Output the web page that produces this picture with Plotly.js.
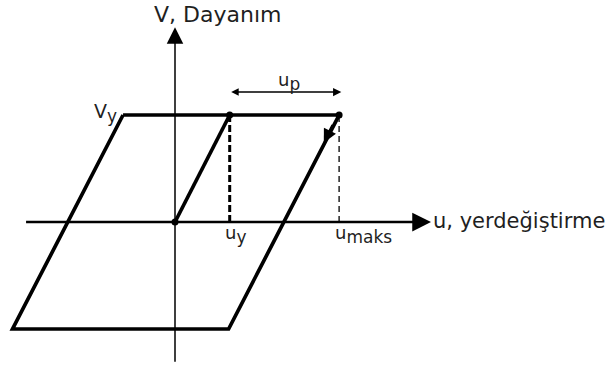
<!DOCTYPE html>
<html>
<head>
<meta charset="utf-8">
<script src="https://cdn.plot.ly/plotly-3.0.1.min.js"></script>
<style>html,body{margin:0;padding:0;background:#fff;}#chart{width:611px;height:374px;}</style>
</head>
<body>
<div id="chart"></div>
<script>
// Hysteresis loop (u, V) corners, in units of u_y and V_y
const loopU = [-0.95, 3, 0.98, -2.97, -0.95];
const loopV = [1, 1, -1, -1, 1];
// Elastic loading branch
const elasticU = [0, 1];
const elasticV = [0, 1];
// Marked points
const pointU = [0, 1, 3];
const pointV = [0, 1, 1];
// Key values
const uY = 1;
const uMaks = 3;
const vY = 1;
// Axis arrow extents
const axisUExtent = [-2.75, 4.68];
const axisVExtent = [-1.32, 1.82];
// Labels
const labels = {
  vAxis: 'V, Dayanım',
  uAxis: 'u, yerdeğiştirme',
  vY: ['V', 'y'],
  uY: ['u', 'y'],
  uMaks: ['u', 'maks'],
  uP: ['u', 'p']
};

const FONT = 'DejaVu Sans, Verdana, sans-serif';
const TXT = '#1f1f1f';
const SUBSIZE = 17;

function subText(parts) {
  return parts[0] + '<sub><span style="font-size:' + SUBSIZE + 'px">' + parts[1] + '</span></sub>';
}

const traces = [
  {x: loopU, y: loopV, mode: 'lines', line: {color: '#000', width: 3.7}, hoverinfo: 'skip'},
  {x: elasticU, y: elasticV, mode: 'lines', line: {color: '#000', width: 3.7}, hoverinfo: 'skip'},
  {x: [uY, uY], y: [0, vY], mode: 'lines', line: {color: '#000', width: 3, dash: '7px,3px'}, hoverinfo: 'skip'},
  {x: [uMaks, uMaks], y: [0, vY], mode: 'lines', line: {color: '#000', width: 1.3, dash: '6px,4px'}, hoverinfo: 'skip'},
  {x: pointU, y: pointV, mode: 'markers', marker: {color: '#000', size: 7}, hoverinfo: 'skip'}
];

const pxX0 = 175, pxScaleX = 54.7, pxY0 = 222, pxScaleY = 107;
const W = 611, H = 374;

const annotations = [
  // horizontal axis arrow
  {x: axisUExtent[1], y: 0, ax: axisUExtent[0], ay: 0, axref: 'x', ayref: 'y', xref: 'x', yref: 'y',
   text: '', showarrow: true, arrowhead: 2, arrowsize: 1.5, arrowwidth: 2.5, arrowcolor: '#000'},
  // vertical axis arrow
  {x: 0, y: axisVExtent[1], ax: 0, ay: axisVExtent[0], axref: 'x', ayref: 'y', xref: 'x', yref: 'y',
   text: '', showarrow: true, arrowhead: 2, arrowsize: 2.2, arrowwidth: 1.5, arrowcolor: '#000'},
  // u_p double arrow
  {x: uMaks + 0.04, y: vY + 0.215, ax: uY, ay: vY + 0.215, axref: 'x', ayref: 'y', xref: 'x', yref: 'y',
   text: '', showarrow: true, arrowhead: 2, startarrowhead: 2, arrowside: 'end+start', arrowsize: 1.1, startarrowsize: 1.0, arrowwidth: 1.5, arrowcolor: '#000'},
  // unloading direction arrow
  {x: 2.72, y: 0.74, ax: 2.9, ay: 0.92, axref: 'x', ayref: 'y', xref: 'x', yref: 'y',
   text: '', showarrow: true, arrowhead: 2, arrowsize: 0.9, arrowwidth: 3, arrowcolor: '#000'},
  // text labels
  {x: 0, y: axisVExtent[1], xref: 'x', yref: 'y', xanchor: 'left', yanchor: 'middle', xshift: -23, yshift: 13,
   text: labels.vAxis, showarrow: false, font: {family: FONT, size: 22, color: TXT}},
  {x: axisUExtent[1], y: 0, xref: 'x', yref: 'y', xanchor: 'left', yanchor: 'middle', xshift: 0, yshift: 1,
   text: labels.uAxis, showarrow: false, font: {family: FONT, size: 21, color: TXT}},
  {x: loopU[0], y: vY, xref: 'x', yref: 'y', xanchor: 'right', yanchor: 'middle', xshift: -4, yshift: 2,
   text: subText(labels.vY), showarrow: false, font: {family: FONT, size: 19, color: TXT}},
  {x: uY, y: 0, xref: 'x', yref: 'y', xanchor: 'left', yanchor: 'top', xshift: -7, yshift: 2,
   text: subText(labels.uY), showarrow: false, font: {family: FONT, size: 18, color: TXT}},
  {x: uMaks, y: 0, xref: 'x', yref: 'y', xanchor: 'left', yanchor: 'top', xshift: -6, yshift: 2,
   text: subText(labels.uMaks), showarrow: false, font: {family: FONT, size: 18, color: TXT}},
  {x: (uY + uMaks) / 2, y: vY + 0.215, xref: 'x', yref: 'y', xanchor: 'center', yanchor: 'bottom', xshift: 5, yshift: -4,
   text: subText(labels.uP), showarrow: false, font: {family: FONT, size: 18, color: TXT}}
];

const layout = {
  width: W, height: H,
  margin: {l: 0, r: 0, t: 0, b: 0, pad: 0},
  paper_bgcolor: '#fff', plot_bgcolor: '#fff',
  showlegend: false,
  xaxis: {range: [-pxX0 / pxScaleX, (W - pxX0) / pxScaleX], visible: false, fixedrange: true},
  yaxis: {range: [-(H - pxY0) / pxScaleY, pxY0 / pxScaleY], visible: false, fixedrange: true},
  annotations: annotations
};

Plotly.newPlot('chart', traces, layout, {staticPlot: true, displayModeBar: false});
</script>
</body>
</html>
